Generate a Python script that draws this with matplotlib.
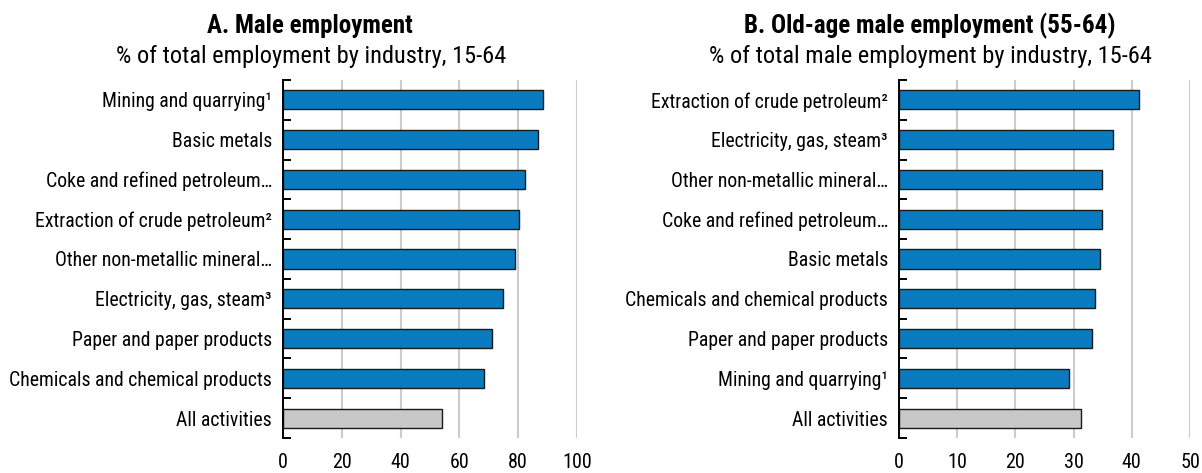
import matplotlib
matplotlib.use("Agg")
import matplotlib.pyplot as plt
import numpy as np

plt.rcParams['font.family'] = ['Roboto Condensed', 'DejaVu Sans']

labels_a = ["Mining and quarrying¹", "Basic metals", "Coke and refined petroleum…",
            "Extraction of crude petroleum²", "Other non-metallic mineral…",
            "Electricity, gas, steam³", "Paper and paper products",
            "Chemicals and chemical products", "All activities"]
values_a = [88.4, 86.6, 82.3, 80.4, 78.9, 74.9, 71.0, 68.2, 54.0]

labels_b = ["Extraction of crude petroleum²", "Electricity, gas, steam³",
            "Other non-metallic mineral…", "Coke and refined petroleum…",
            "Basic metals", "Chemicals and chemical products",
            "Paper and paper products", "Mining and quarrying¹", "All activities"]
values_b = [41.2, 36.8, 34.9, 34.8, 34.5, 33.7, 33.2, 29.2, 31.3]

blue = "#0B7BC1"
grey = "#C8C8C8"

W, H = 1202, 473
fig = plt.figure(figsize=(W / 100, H / 100), dpi=100)
ax_a = fig.add_axes([283/W, 1-438/H, 294/W, 358/H])
ax_b = fig.add_axes([899/W, 1-438/H, 291/W, 358/H])


def draw(ax, labels, values, xmax, step):
    n = len(values)
    y = np.arange(n)
    colors = [blue] * (n - 1) + [grey]
    ax.barh(y, values, height=0.48, color=colors, edgecolor="#1a1a1a", linewidth=1.0, zorder=3)
    ax.set_ylim(n - 0.5, -0.5)
    ax.set_xlim(0, xmax)
    ax.set_yticks(y)
    ax.set_yticklabels(labels, fontsize=14.2)
    ax.set_yticks(np.arange(n + 1) - 0.5, minor=True)
    ax.tick_params(axis="y", which="major", length=0, pad=8)
    ax.tick_params(axis="y", which="minor", direction="in", length=6, width=1.4, color="black")
    ax.set_xticks(np.arange(0, xmax + 1, step))
    ax.tick_params(axis="x", length=0, labelsize=14.5, pad=11)
    ax.grid(axis="x", color="#cccccc", linewidth=1.5, zorder=0)
    for s in ["top", "right", "bottom"]:
        ax.spines[s].set_visible(False)
    ax.spines["left"].set_linewidth(1.4)
    ax.spines["left"].set_zorder(4)


draw(ax_a, labels_a, values_a, 100, 20)
draw(ax_b, labels_b, values_b, 50, 10)

fig.text(310/W, 1-33/H, "A. Male employment", ha="center", va="baseline",
         fontsize=18, fontweight="bold")
fig.text(311/W, 1-63/H, "% of total employment by industry, 15-64", ha="center",
         va="baseline", fontsize=17.6)
fig.text(930/W, 1-33/H, "B. Old-age male employment (55-64)", ha="center",
         va="baseline", fontsize=18, fontweight="bold")
fig.text(930/W, 1-63/H, "% of total male employment by industry, 15-64", ha="center",
         va="baseline", fontsize=17.6)

fig.savefig("out.png", dpi=100)
